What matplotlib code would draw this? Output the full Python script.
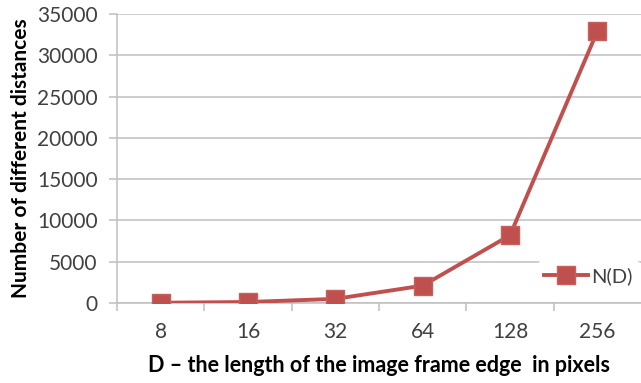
import matplotlib
matplotlib.use('Agg')
import matplotlib.pyplot as plt
import numpy as np

CATEGORIES = ['8', '16', '32', '64', '128', '256']
N_D = [30, 120, 500, 2100, 8200, 32900]
YTICKS = [0, 5000, 10000, 15000, 20000, 25000, 30000, 35000]

RED = '#C0504D'
GRID = '#BFBFBF'

plt.rcParams['font.family'] = ['Lato', 'DejaVu Sans']

fig = plt.figure(figsize=(6.41, 3.83), dpi=100)
ax = fig.add_axes([117 / 641, 1 - 303 / 383, 1 - 117 / 641, 289 / 383])

ind = np.arange(len(CATEGORIES))
ax.plot(ind, N_D, color=RED, lw=2.8, marker='s', ms=13,
        mfc=RED, mec='#C6605D', label='N(D)', zorder=3)

ax.set_xlim(-0.5, len(CATEGORIES) - 0.5)
ax.set_ylim(0, 35000)
ax.set_yticks(YTICKS)
ax.set_yticklabels([str(v) for v in YTICKS])
ax.set_xticks(ind)
ax.set_xticklabels(CATEGORIES)
ax.set_xticks(np.arange(-0.5, len(CATEGORIES) - 0.5, 1.0), minor=True)

ax.grid(axis='y', color=GRID, lw=1.1, zorder=0)
for s in ['top', 'right']:
    ax.spines[s].set_visible(False)
for s in ['left', 'bottom']:
    ax.spines[s].set_color(GRID)
    ax.spines[s].set_linewidth(1.1)

ax.tick_params(axis='x', which='major', length=0, pad=14, labelsize=15)
ax.tick_params(axis='x', which='minor', length=6, color=GRID, width=1.1)
ax.tick_params(axis='y', length=6, color=GRID, width=1.1, labelsize=15, pad=8)
for t in ax.get_xticklabels() + ax.get_yticklabels():
    t.set_color('#404040')

ax.set_xlabel('D \u2013 the length of the image frame edge  in pixels',
              fontsize=15.5, fontweight='bold', labelpad=9)
ax.set_ylabel('Number of different distances', fontsize=15, fontweight='bold', labelpad=4)

leg = ax.legend(loc='center right', bbox_to_anchor=(1.015, 0.093), frameon=True,
                fontsize=14.5, handlelength=2.2, borderpad=0.3, handletextpad=0.15)
leg.get_frame().set_facecolor('white')
leg.get_frame().set_edgecolor('white')
leg.get_frame().set_alpha(1.0)
for t in leg.get_texts():
    t.set_color('#404040')

fig.savefig('out.png', dpi=100)
